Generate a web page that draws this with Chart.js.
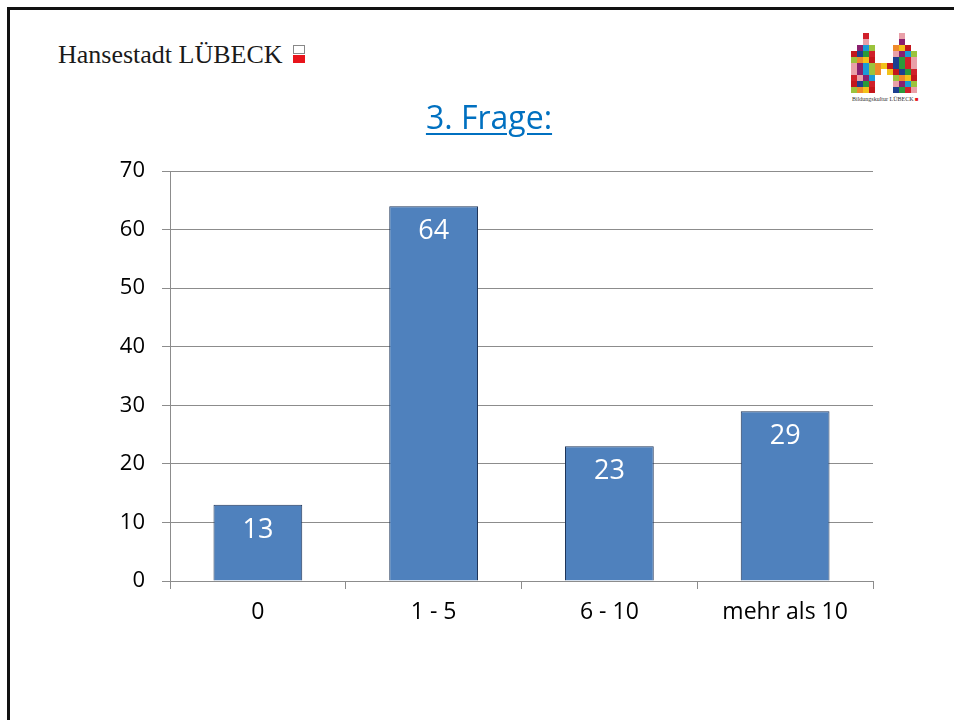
<!DOCTYPE html>
<html>
<head>
<meta charset="utf-8">
<script src="https://cdn.jsdelivr.net/npm/chart.js@4.4.1/dist/chart.umd.min.js"></script>
<style>
  html, body { margin:0; padding:0; background:#fff; width:954px; height:720px; overflow:hidden; }
  #frame { position:absolute; left:7px; top:7px; width:1000px; height:800px; border-left:3px solid #111; border-top:3px solid #111; }
  #hdr { position:absolute; left:58px; top:39px; font-family:"Liberation Serif","Times New Roman",serif; font-size:26px; color:#1a1a1a; white-space:nowrap; line-height:32px; }
  #hicon { position:absolute; left:293px; top:45px; width:12px; height:18px; }
  #hicon .t { position:absolute; left:0; top:0; width:10px; height:7px; border:1px solid #888; background:#fff; }
  #hicon .b { position:absolute; left:0; top:10px; width:12px; height:8px; background:#e8141b; }
  #title { position:absolute; left:0; width:978px; top:97px; text-align:center; font-family:"Open Sans",sans-serif; font-size:32px; color:#0070C0; text-decoration:underline; text-decoration-thickness:2px; text-underline-offset:4px; line-height:40px; }
  #logo { position:absolute; left:851px; top:33px; }
  #logotxt { position:absolute; left:852px; top:96px; font-family:"Liberation Serif",serif; font-size:6px; color:#333; white-space:nowrap; }
  #c { position:absolute; left:0; top:0; }
</style>
</head>
<body>
<div id="frame"></div>
<div id="hdr">Hansestadt LÜBECK</div>
<div id="hicon"><div class="t"></div><div class="b"></div></div>
<canvas id="logo" width="66" height="62"></canvas>
<div id="logotxt">Bildungskultur LÜBECK <span style="color:#e8141b">■</span></div>
<div id="title">3. Frage:</div>
<canvas id="c" width="954" height="720"></canvas>
<script>
const categories = ["0", "1 - 5", "6 - 10", "mehr als 10"];
const values = [13, 64, 23, 29];
const yTicks = [0, 10, 20, 30, 40, 50, 60, 70];

// decorative logo mosaic (M shape)
(function(){
  const cv = document.getElementById('logo');
  const g = cv.getContext('2d');
  const pal = ['#d0202a','#1b9ad6','#f2c21b','#2b9a3a','#8a1f6e','#f08a2a','#1d3f8f','#e9a0a8','#9bc33c','#c4161c'];
  const rows = [
    [2,8],[2,8],[1,2,3,7,8,9],[0,1,2,3,7,8,9,10],[0,1,2,3,7,8,9,10],
    [0,1,2,3,4,5,6,7,8,9,10],[0,1,2,3,4,6,7,8,9,10],[0,1,2,3,7,8,9,10],
    [0,1,2,3,7,8,9,10],[0,1,2,3,7,8,9,10]
  ];
  const s = 6;
  let k = 0;
  rows.forEach((cols, r) => {
    cols.forEach(c => {
      g.fillStyle = pal[(k*7 + r*3) % pal.length];
      g.fillRect(c*s, r*s, s, s);
      k++;
    });
  });
})();

const labelPlugin = {
  id: 'barLabels',
  afterDatasetsDraw(chart) {
    const ctx = chart.ctx;
    const meta = chart.getDatasetMeta(0);
    ctx.save();
    ctx.fillStyle = '#ffffff';
    ctx.font = '27px "Open Sans", sans-serif';
    ctx.textAlign = 'center';
    ctx.textBaseline = 'middle';
    meta.data.forEach((bar, i) => {
      ctx.fillText(String(values[i]), bar.x, bar.y + 25);
    });
    ctx.restore();
  }
};

new Chart(document.getElementById('c'), {
  type: 'bar',
  data: {
    labels: categories,
    datasets: [{
      data: values,
      backgroundColor: '#4F81BD',
      borderColor: '#1F3559',
      borderWidth: 1,
      barPercentage: 0.505,
      categoryPercentage: 1.0
    }]
  },
  options: {
    responsive: false,
    animation: false,
    layout: { padding: { left: 0, right: 81, top: 171, bottom: 0 } },
    plugins: { legend: { display: false }, tooltip: { enabled: false } },
    scales: {
      x: {
        afterFit(scale) { scale.height = 139; },
        grid: { offset: true, drawOnChartArea: false, drawTicks: true, tickLength: 8, color: '#8c8c8c' },
        border: { display: true, color: '#8c8c8c', width: 1 },
        ticks: { color: '#000', padding: 10, font: { family: '"Open Sans", sans-serif', size: 23 } }
      },
      y: {
        min: 0, max: 70,
        afterFit(scale) { scale.width = 170; },
        afterBuildTicks(scale) { scale.ticks = yTicks.map(v => ({ value: v })); },
        grid: { drawTicks: true, tickLength: 8, color: '#8c8c8c' },
        border: { display: true, color: '#8c8c8c', width: 1 },
        ticks: { color: '#000', padding: 17, font: { family: '"Open Sans", sans-serif', size: 22 } }
      }
    }
  },
  plugins: [labelPlugin]
});
</script>
</body>
</html>
